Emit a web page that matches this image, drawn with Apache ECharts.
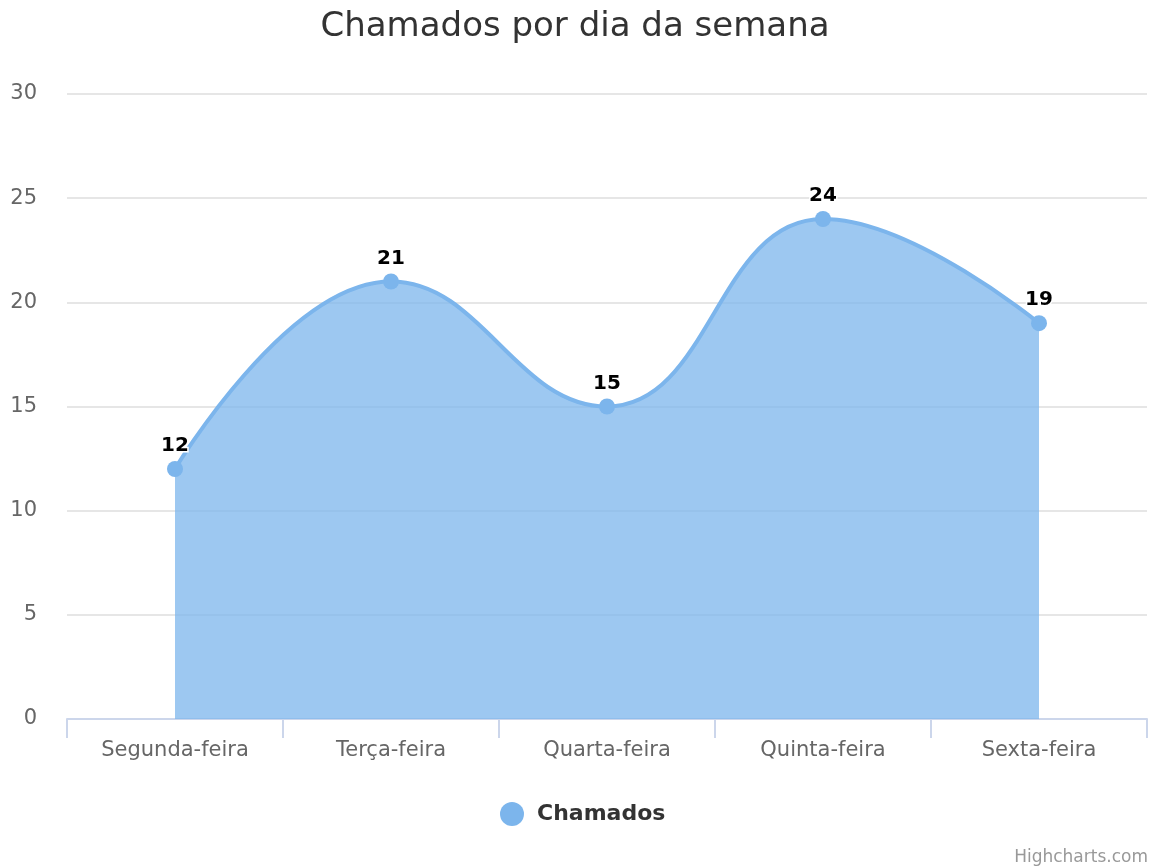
<!DOCTYPE html>
<html>
<head>
<meta charset="utf-8">
<script src="https://cdn.jsdelivr.net/npm/echarts@6/dist/echarts.min.js"></script>
<style>
  html, body { margin: 0; padding: 0; background: #fff; }
  #chart { width: 1150px; height: 868px; }
</style>
</head>
<body>
<div id="chart"></div>
<script>
// dados do gráfico
var dias = ['Segunda-feira', 'Terça-feira', 'Quarta-feira', 'Quinta-feira', 'Sexta-feira'];
var chamados = [12, 21, 15, 24, 19];
var yTicks = [0, 5, 10, 15, 20, 25, 30];

var fonte = '"DejaVu Sans", Verdana, sans-serif';
var chart = echarts.init(document.getElementById('chart'));

chart.setOption({
  animation: false,
  textStyle: { fontFamily: fonte },
  title: {
    text: 'Chamados por dia da semana',
    left: 'center',
    top: 5,
    textStyle: { fontSize: 34, fontWeight: 'normal', color: '#333333', fontFamily: fonte }
  },
  legend: {
    data: ['Chamados'],
    bottom: 37,
    left: 495,
    icon: 'circle',
    itemWidth: 24,
    itemHeight: 24,
    itemGap: 10,
    textStyle: { fontSize: 22, fontWeight: 'bold', color: '#333333', fontFamily: fonte, padding: [0, 0, 0, 8] }
  },
  grid: { left: 67, right: 3, top: 94, bottom: 149, containLabel: false },
  xAxis: {
    type: 'category',
    data: dias,
    boundaryGap: true,
    axisLine: { lineStyle: { color: '#ccd6eb', width: 2 } },
    axisTick: { show: true, length: 19, lineStyle: { color: '#ccd6eb', width: 2 } },
    axisLabel: { fontSize: 21, color: '#666666', margin: 21, fontFamily: fonte },
    splitLine: { show: false }
  },
  yAxis: {
    type: 'value',
    min: yTicks[0],
    max: yTicks[yTicks.length - 1],
    interval: 5,
    axisLine: { show: false },
    axisTick: { show: false },
    axisLabel: { fontSize: 21, color: '#666666', margin: 30, fontFamily: fonte },
    splitLine: { lineStyle: { color: '#e6e6e6', width: 2 } }
  },
  series: [{
    name: 'Chamados',
    type: 'line',
    data: chamados,
    smooth: 0.45,
    symbol: 'circle',
    symbolSize: 16,
    itemStyle: { color: '#7cb5ec' },
    lineStyle: { color: '#7cb5ec', width: 4 },
    areaStyle: { color: '#7cb5ec', opacity: 0.75 },
    label: {
      show: true,
      position: 'top',
      distance: 5,
      fontSize: 20,
      fontWeight: 'bold',
      color: '#000000',
      textBorderColor: '#ffffff',
      textBorderWidth: 3,
      fontFamily: fonte
    }
  }],
  graphic: [{
    type: 'text',
    right: 2,
    bottom: 2,
    style: { text: 'Highcharts.com', fontSize: 17, fill: '#999999', fontFamily: fonte }
  }]
});
</script>
</body>
</html>
